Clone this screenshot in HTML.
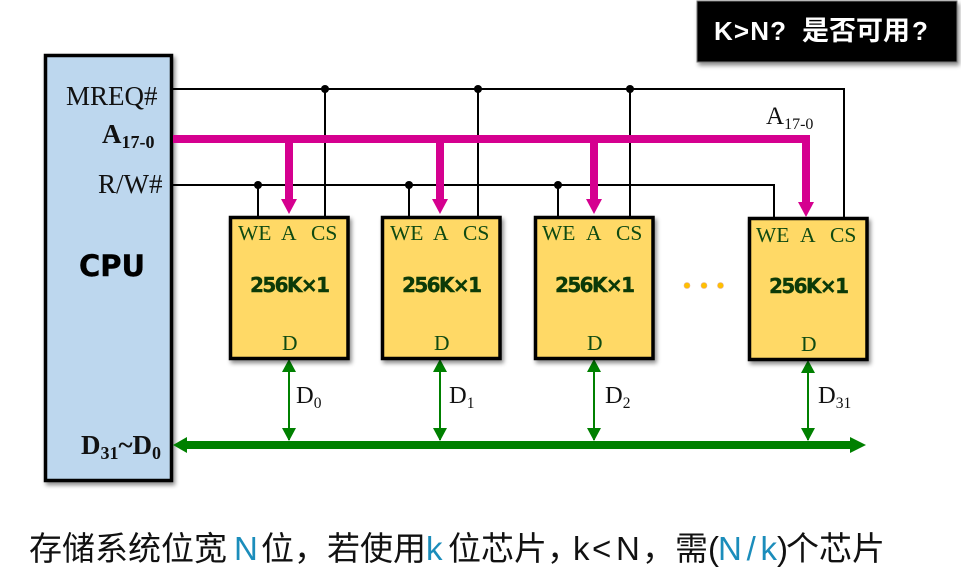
<!DOCTYPE html>
<html>
<head>
<meta charset="utf-8">
<style>
html,body{margin:0;padding:0;background:#fff;width:961px;height:588px;overflow:hidden}
svg{display:block}
.t{font-family:"Liberation Serif",serif}
.pin{font-family:"Liberation Serif",serif;font-size:21.5px;fill:#0f4a12}
.chip{font-family:"DejaVu Sans","Liberation Sans",sans-serif;font-size:20px;font-weight:bold;fill:#0c3a08;stroke:#0c3a08;stroke-width:.4}
.box{fill:#ffd966;stroke:#000;stroke-width:3.5}
.k{stroke:#000;stroke-width:2;fill:none}
.c{font-family:"Noto Sans CJK SC",sans-serif;font-size:33px;font-weight:400;fill:#111}
.l{font-family:"Liberation Sans",sans-serif;font-size:33px;fill:#111}
.b{fill:#1b8dbb}
.h{font-family:"Noto Sans CJK SC",sans-serif;font-weight:700;fill:#fff}
.hl{font-family:"Liberation Sans",sans-serif;font-weight:700;fill:#fff}
</style>
</head>
<body>
<svg width="961" height="588" viewBox="0 0 961 588" xmlns="http://www.w3.org/2000/svg">
<defs>
<filter id="sh" x="-10%" y="-10%" width="125%" height="125%">
<feDropShadow dx="2" dy="3" stdDeviation="2.2" flood-color="#000" flood-opacity=".45"/>
</filter>
</defs>

<!-- top black box -->
<rect x="697" y="1" width="260" height="61" fill="#000" stroke="#777" stroke-width="1" filter="url(#sh)"/>
<text x="714" y="40" class="hl" font-size="26" textLength="72" lengthAdjust="spacing">K&gt;N?</text>
<text x="802" y="40" class="h" font-size="27">是否可用</text>
<text x="912" y="40" class="hl" font-size="26">?</text>

<!-- CPU -->
<rect x="45.500" y="55.500" width="126" height="425" fill="#bdd7ee" stroke="#000" stroke-width="3.500" filter="url(#sh)"/>
<text x="66" y="105" class="t" font-size="27" fill="#111">MREQ#</text>
<text x="102" y="143" class="t" font-size="27" font-weight="bold" fill="#111">A<tspan font-size="18" dy="5">17-0</tspan></text>
<text x="98" y="193" class="t" font-size="27" fill="#111">R/W#</text>
<text x="112" y="276" font-size="29" font-weight="bold" text-anchor="middle" fill="#000" stroke="#000" stroke-width=".4" style="font-family:'DejaVu Sans',sans-serif">CPU</text>
<text x="81" y="454" class="t" font-size="27" font-weight="bold" fill="#111">D<tspan font-size="18" dy="5">31</tspan><tspan dy="-5">~D</tspan><tspan font-size="18" dy="5">0</tspan></text>

<!-- control lines -->
<path class="k" d="M173 89H844V218"/>
<path class="k" d="M173 185H774V218"/>
<path class="k" d="M325 89V217M478 89V217M630 89V217"/>
<path class="k" d="M258 185V217M409 185V217M558 185V217"/>
<circle cx="325" cy="89" r="4"/><circle cx="478" cy="89" r="4"/><circle cx="630" cy="89" r="4"/>
<circle cx="258" cy="185" r="4"/><circle cx="409" cy="185" r="4"/><circle cx="558" cy="185" r="4"/>

<!-- green buses under chips -->
<g stroke="#008000" stroke-width="2" fill="none">
<path d="M289 362V440M440 362V440M594 362V440M808 362V440"/>
</g>
<g fill="#008000">
<path d="M289 359l-7 13h14zM289 441l-7 -13h14z"/>
<path d="M440 359l-7 13h14zM440 441l-7 -13h14z"/>
<path d="M594 359l-7 13h14zM594 441l-7 -13h14z"/>
<path d="M808 360l-7 13h14zM808 441l-7 -13h14z"/>
<rect x="186" y="441" width="666" height="8"/>
<path d="M173 445l14 -8v16zM866 445l-16 -8v16z"/>
</g>

<!-- chips -->
<rect class="box" x="230.500" y="217.500" width="117.500" height="141" filter="url(#sh)"/>
<rect class="box" x="382.500" y="217.500" width="117.500" height="141" filter="url(#sh)"/>
<rect class="box" x="535.500" y="217.500" width="117.500" height="141" filter="url(#sh)"/>
<rect class="box" x="749.500" y="218.500" width="117.500" height="141" filter="url(#sh)"/>

<!-- pink bus -->
<g fill="#d5008f">
<rect x="173" y="135" width="637" height="8"/>
<rect x="285" y="139" width="8" height="61"/><path d="M281 199h16l-8 15z"/>
<rect x="436" y="139" width="8" height="61"/><path d="M432 199h16l-8 15z"/>
<rect x="590" y="139" width="8" height="61"/><path d="M586 199h16l-8 15z"/>
<rect x="802" y="139" width="8" height="64"/><path d="M798 202h16l-8 15z"/>
</g>
<text x="766" y="124" class="t" font-size="25" fill="#111">A<tspan font-size="16" dy="5">17-0</tspan></text>

<!-- chip labels -->
<text class="pin" x="238" y="240">WE</text><text class="pin" x="281" y="240">A</text><text class="pin" x="311" y="240">CS</text>
<text class="pin" x="390" y="240">WE</text><text class="pin" x="433" y="240">A</text><text class="pin" x="463" y="240">CS</text>
<text class="pin" x="542" y="240">WE</text><text class="pin" x="586" y="240">A</text><text class="pin" x="616" y="240">CS</text>
<text class="pin" x="756" y="242">WE</text><text class="pin" x="800" y="242">A</text><text class="pin" x="830" y="242">CS</text>

<text class="chip" x="290" y="292" text-anchor="middle" textLength="80">256K×1</text>
<text class="chip" x="442" y="292" text-anchor="middle" textLength="80">256K×1</text>
<text class="chip" x="595" y="292" text-anchor="middle" textLength="80">256K×1</text>
<text class="chip" x="809" y="293" text-anchor="middle" textLength="80">256K×1</text>

<text class="pin" x="282" y="350">D</text>
<text class="pin" x="434" y="350">D</text>
<text class="pin" x="587" y="350">D</text>
<text class="pin" x="801" y="351">D</text>

<!-- D labels -->
<text x="296" y="403" class="t" font-size="24.500" fill="#111">D<tspan font-size="15.500" dy="5">0</tspan></text>
<text x="449" y="403" class="t" font-size="24.500" fill="#111">D<tspan font-size="15.500" dy="5">1</tspan></text>
<text x="605" y="403" class="t" font-size="24.500" fill="#111">D<tspan font-size="15.500" dy="5">2</tspan></text>
<text x="818" y="403" class="t" font-size="24.500" fill="#111">D<tspan font-size="15.500" dy="5">31</tspan></text>

<!-- ellipsis -->
<g fill="#ffc000" stroke="#e8b090" stroke-width=".6">
<circle cx="687" cy="285.500" r="3"/><circle cx="704" cy="285.500" r="3"/><circle cx="720.500" cy="285.500" r="3"/>
</g>

<!-- bottom caption -->
<text class="c" x="29" y="560">存储系统位宽</text>
<text class="l b" x="234" y="560">N</text>
<text class="c" x="261" y="560">位，若使用</text>
<text class="l b" x="426" y="560">k</text>
<text class="c" x="448" y="560">位芯片，</text>
<text class="l" x="573" y="560">k</text>
<text class="l" x="592" y="560">&lt;</text>
<text class="l" x="616" y="560">N</text>
<text class="c" x="642" y="560">，需</text>
<text class="l" x="708" y="560">(</text>
<text class="l b" x="718" y="560" textLength="59">N/k</text>
<text class="l" x="777" y="560">)</text>
<text class="c" x="786" y="560">个芯片</text>
</svg>
</body>
</html>
